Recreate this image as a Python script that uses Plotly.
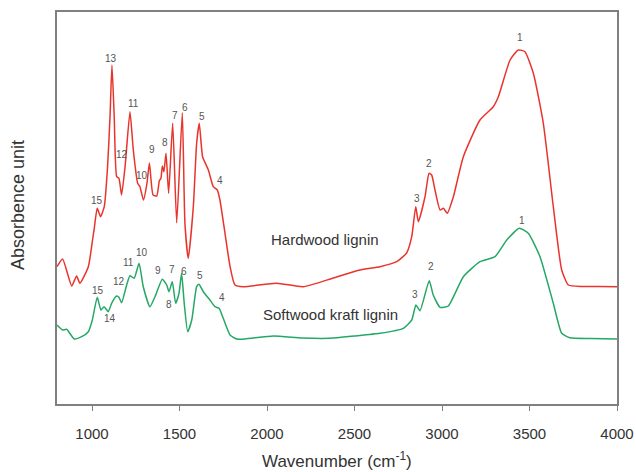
import plotly.graph_objects as go

# ---- data (wavenumber in cm^-1, absorbance in arbitrary units) ----
hw_wavenumber = [800, 832, 884, 912, 931, 979, 1003, 1013, 1030, 1049, 1070, 1089, 1103, 1114, 1127,
                 1141, 1154, 1169, 1189, 1217, 1236, 1261, 1274, 1294, 1314, 1328, 1349, 1370, 1385,
                 1394, 1402, 1411, 1423, 1438, 1461, 1484, 1516, 1531, 1550, 1579, 1598, 1613, 1632,
                 1665, 1693, 1716, 1731, 1760, 1789, 1817, 1865, 2055, 2207, 2379, 2531, 2646, 2741,
                 2798, 2827, 2850, 2865, 2903, 2926, 2941, 2960, 2989, 3008, 3030, 3065, 3122, 3217,
                 3293, 3322, 3389, 3436, 3474, 3522, 3579, 3636, 3684, 3722, 3800, 3900, 4000]
hw_absorbance = [1.373, 1.45, 1.18, 1.28, 1.207, 1.373, 1.64, 1.757, 1.957, 1.873, 1.973, 2.373, 2.873,
                 3.39, 2.873, 2.273, 2.257, 2.09, 2.373, 2.923, 2.54, 2.207, 2.173, 2.04, 2.207, 2.41,
                 2.09, 2.08, 2.233, 2.257, 2.38, 2.323, 2.507, 2.107, 2.807, 1.813, 2.913, 1.807, 1.457,
                 1.973, 2.607, 2.807, 2.473, 2.34, 2.173, 2.14, 2.04, 1.707, 1.373, 1.19, 1.173, 1.207,
                 1.173, 1.26, 1.34, 1.373, 1.423, 1.51, 1.673, 1.973, 1.823, 2.073, 2.307, 2.29, 2.14,
                 1.94, 1.957, 1.907, 2.073, 2.473, 2.84, 2.973, 3.073, 3.44, 3.54, 3.523, 3.307, 2.807,
                 1.973, 1.34, 1.19, 1.175, 1.175, 1.173]

sw_wavenumber = [800, 832, 855, 899, 941, 979, 1002, 1030, 1051, 1069, 1093, 1112, 1141, 1154, 1169,
                 1198, 1217, 1241, 1269, 1293, 1331, 1360, 1402, 1427, 1440, 1459, 1478, 1497, 1512,
                 1527, 1547, 1570, 1598, 1611, 1636, 1674, 1703, 1726, 1750, 1789, 1827, 1874, 2036,
                 2200, 2360, 2500, 2646, 2779, 2827, 2851, 2874, 2927, 2950, 2989, 3036, 3122, 3217,
                 3303, 3370, 3442, 3493, 3560, 3636, 3684, 3731, 3850, 4000]
sw_absorbance = [0.79, 0.74, 0.747, 0.65, 0.673, 0.723, 0.84, 1.067, 0.94, 0.973, 0.923, 1.007, 1.08,
                 1.067, 1.013, 1.19, 1.283, 1.257, 1.407, 1.173, 0.973, 1.073, 1.247, 1.19, 1.123,
                 1.223, 1.007, 1.107, 1.307, 1.007, 0.723, 0.84, 1.173, 1.197, 1.123, 1.04, 0.973,
                 0.957, 0.857, 0.69, 0.65, 0.65, 0.68, 0.66, 0.657, 0.68, 0.707, 0.757, 0.84, 0.99,
                 0.933, 1.233, 1.09, 0.967, 0.98, 1.273, 1.423, 1.473, 1.64, 1.757, 1.707, 1.473,
                 1.007, 0.707, 0.663, 0.655, 0.65]

# peak labels: (label, wavenumber, absorbance)
hw_peak_labels = ["15", "13", "12", "11", "10", "9", "8", "7", "6", "5", "4", "3", "2", "1"]
hw_peak_wn = [1030, 1109, 1170, 1236, 1287, 1341, 1419, 1473, 1533, 1627, 1733, 2855, 2926, 3446]
hw_peak_abs = [2.04, 3.457, 2.50, 3.007, 2.29, 2.547, 2.613, 2.89, 2.963, 2.88, 2.237, 2.06, 2.407, 3.67]

sw_peak_labels = ["15", "14", "12", "11", "10", "9", "8", "7", "6", "5", "4", "3", "2", "1"]
sw_peak_wn = [1036, 1103, 1156, 1207, 1284, 1379, 1442, 1455, 1526, 1617, 1741, 2846, 2935, 3455]
sw_peak_abs = [1.14, 0.857, 1.223, 1.413, 1.513, 1.34, 1.00, 1.347, 1.323, 1.29, 1.067, 1.10, 1.38, 1.84]

x_ticks = [1000, 1500, 2000, 2500, 3000, 3500, 4000]

RED = "#e8342c"
GREEN = "#25a866"
FONT = "Liberation Sans, Arial, sans-serif"

W, H = 636, 472
L, R, T, B = 57, 19, 12, 68
pw, ph = W - L - R, H - T - B

fig = go.Figure()
fig.add_trace(go.Scatter(x=hw_wavenumber, y=hw_absorbance, mode="lines",
                         line=dict(color=RED, width=1.5, shape="spline", smoothing=0.5),
                         name="Hardwood lignin", showlegend=False, hoverinfo="skip"))
fig.add_trace(go.Scatter(x=sw_wavenumber, y=sw_absorbance, mode="lines",
                         line=dict(color=GREEN, width=1.5, shape="spline", smoothing=0.5),
                         name="Softwood kraft lignin", showlegend=False, hoverinfo="skip"))

annotations = []
for lab, xv, yv in zip(hw_peak_labels, hw_peak_wn, hw_peak_abs):
    annotations.append(dict(x=xv, y=yv, text=lab, showarrow=False, xref="x", yref="y",
                            xanchor="center", yanchor="middle",
                            font=dict(family=FONT, size=10, color="#555555")))
for lab, xv, yv in zip(sw_peak_labels, sw_peak_wn, sw_peak_abs):
    annotations.append(dict(x=xv, y=yv, text=lab, showarrow=False, xref="x", yref="y",
                            xanchor="center", yanchor="middle",
                            font=dict(family=FONT, size=10, color="#555555")))

annotations.append(dict(x=2331, y=1.647, text="Hardwood lignin", showarrow=False, xref="x", yref="y",
                        xanchor="center", yanchor="middle",
                        font=dict(family=FONT, size=15, color="#333333")))
annotations.append(dict(x=2364, y=0.90, text="Softwood kraft lignin", showarrow=False, xref="x", yref="y",
                        xanchor="center", yanchor="middle",
                        font=dict(family=FONT, size=15, color="#333333")))

# axis titles (positioned in paper coordinates)
annotations.append(dict(x=(337 - L) / pw, y=(H - B - 460) / ph, xref="paper", yref="paper",
                        xanchor="center", yanchor="middle",
                        text="Wavenumber (cm<sup>-1</sup>)", showarrow=False,
                        font=dict(family=FONT, size=17, color="#333333")))
annotations.append(dict(x=(18 - L) / pw, y=(H - B - 205) / ph, xref="paper", yref="paper",
                        xanchor="center", yanchor="middle",
                        text="Absorbence unit", showarrow=False, textangle=-90,
                        font=dict(family=FONT, size=18, color="#333333")))

fig.update_layout(
    width=W, height=H,
    margin=dict(l=L, r=R, t=T, b=B, pad=0, autoexpand=False),
    paper_bgcolor="white", plot_bgcolor="white",
    font=dict(family=FONT, color="#333333"),
    annotations=annotations,
    xaxis=dict(range=[800, 4000], tickmode="array", tickvals=x_ticks,
               ticktext=[str(t) for t in x_ticks], automargin=False,
               ticks="outside", ticklen=5, tickwidth=1.3, tickcolor="#808080",
               showline=True, linecolor="#808080", linewidth=1.5, mirror=True,
               showgrid=False, zeroline=False,
               tickfont=dict(family=FONT, size=15, color="#333333"),
               ticklabelstandoff=10),
    yaxis=dict(range=[0, 3.92], showticklabels=False, ticks="", automargin=False,
               showline=True, linecolor="#808080", linewidth=1.5, mirror=True,
               showgrid=False, zeroline=False),
)

fig.write_html("out.html")
